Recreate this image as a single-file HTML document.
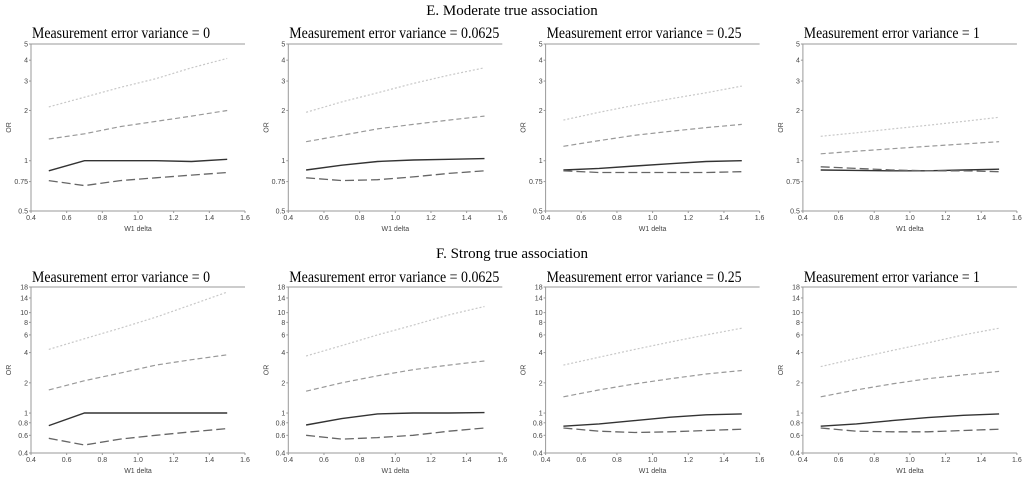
<!DOCTYPE html>
<html><head><meta charset="utf-8"><style>
html,body{margin:0;padding:0;background:#fff;}
svg{display:block;}
.sec{font-family:"Liberation Serif",serif;font-size:15px;fill:#000;}
.pt{font-family:"Liberation Serif",serif;font-size:15.5px;fill:#000;}
.tk{font-family:"Liberation Sans",sans-serif;font-size:7px;fill:#444;}
</style></head><body>
<svg id="c" width="1024" height="481" xmlns="http://www.w3.org/2000/svg">
<text class="sec" x="512" y="15" text-anchor="middle">E. Moderate true association</text>
<text class="sec" x="512" y="258" text-anchor="middle">F. Strong true association</text>
</svg>
<script>
const xs = [0.5,0.7,0.9,1.1,1.3,1.5];
const panelTitles = ["Measurement error variance = 0","Measurement error variance = 0.0625","Measurement error variance = 0.25","Measurement error variance = 1"];
const titleWidths = [178,210,195,176];
const xTicks = [0.4,0.6,0.8,1.0,1.2,1.4,1.6];
const xTickLabels = ["0.4","0.6","0.8","1.0","1.2","1.4","1.6"];
const yTicksE = [0.5,0.75,1,2,3,4,5];
const yTickLabelsE = ["0.5","0.75","1","2","3","4","5"];
const yTicksF = [0.4,0.6,0.8,1,2,4,6,8,10,14,18];
const yTickLabelsF = ["0.4","0.6","0.8","1","2","4","6","8","10","14","18"];
const e1Dot=[2.1,2.4,2.75,3.1,3.6,4.1], e1Dash=[1.35,1.45,1.6,1.72,1.85,2.0], e1Solid=[0.87,1.0,1.0,1.0,0.99,1.02], e1Long=[0.76,0.71,0.76,0.79,0.82,0.85];
const e2Dot=[1.95,2.25,2.55,2.9,3.25,3.6], e2Dash=[1.3,1.42,1.55,1.65,1.75,1.85], e2Solid=[0.88,0.94,0.99,1.01,1.02,1.03], e2Long=[0.79,0.76,0.77,0.8,0.84,0.87];
const e3Dot=[1.75,1.95,2.15,2.35,2.55,2.8], e3Dash=[1.22,1.32,1.42,1.5,1.58,1.65], e3Solid=[0.88,0.9,0.93,0.96,0.99,1.0], e3Long=[0.87,0.85,0.85,0.85,0.85,0.86];
const e4Dot=[1.4,1.47,1.55,1.63,1.72,1.82], e4Dash=[1.1,1.14,1.18,1.22,1.26,1.3], e4Solid=[0.88,0.875,0.87,0.87,0.88,0.89], e4Long=[0.92,0.9,0.88,0.87,0.87,0.86];
const f1Dot=[4.3,5.5,7.0,9.0,12,16], f1Dash=[1.7,2.1,2.5,3.0,3.4,3.8], f1Solid=[0.75,1.0,1.0,1.0,1.0,1.0], f1Long=[0.56,0.48,0.55,0.6,0.65,0.7];
const f2Dot=[3.7,4.7,6.0,7.5,9.5,11.5], f2Dash=[1.65,2.0,2.35,2.7,3.0,3.3], f2Solid=[0.76,0.88,0.98,1.0,1.0,1.01], f2Long=[0.6,0.55,0.57,0.6,0.66,0.71];
const f3Dot=[3.0,3.6,4.3,5.1,6.0,7.0], f3Dash=[1.45,1.7,1.95,2.2,2.45,2.65], f3Solid=[0.74,0.78,0.84,0.91,0.96,0.98], f3Long=[0.71,0.66,0.64,0.65,0.67,0.69];
const f4Dot=[2.9,3.5,4.2,5.0,6.0,7.0], f4Dash=[1.45,1.7,1.95,2.2,2.4,2.6], f4Solid=[0.74,0.78,0.84,0.9,0.95,0.98], f4Long=[0.71,0.66,0.65,0.65,0.67,0.69];

const svg=document.getElementById('c');
const NS="http://www.w3.org/2000/svg";
function mk(tag,attrs,parent){const e=document.createElementNS(NS,tag);for(const k in attrs)e.setAttribute(k,attrs[k]);(parent||svg).appendChild(e);return e;}
const styles=[
 {stroke:"#c8c8c8",dash:"2,2",w:1.2,name:"dotted-line"},
 {stroke:"#999",dash:"5,3",w:1.2,name:"dashed-line"},
 {stroke:"#333",dash:"",w:1.4,name:"solid-line"},
 {stroke:"#666",dash:"9,4",w:1.3,name:"long-dashed-line"}];
const rows=[
 {top:44,bot:211,min:0.5,max:5,ticks:yTicksE,labels:yTickLabelsE,titleY:38,data:[[e1Dot,e1Dash,e1Solid,e1Long],[e2Dot,e2Dash,e2Solid,e2Long],[e3Dot,e3Dash,e3Solid,e3Long],[e4Dot,e4Dash,e4Solid,e4Long]],id:"e"},
 {top:287,bot:453,min:0.4,max:18,ticks:yTicksF,labels:yTickLabelsF,titleY:282,data:[[f1Dot,f1Dash,f1Solid,f1Long],[f2Dot,f2Dash,f2Solid,f2Long],[f3Dot,f3Dash,f3Solid,f3Long],[f4Dot,f4Dash,f4Solid,f4Long]],id:"f"}];
rows.forEach(r=>{
 for(let i=0;i<4;i++){
  const L=31+257.3*i, W=214;
  const g=mk('g',{});
  
  
  const X=v=>L+(v-0.4)/1.2*W;
  const Y=v=>r.bot-(Math.log(v)-Math.log(r.min))/(Math.log(r.max)-Math.log(r.min))*(r.bot-r.top);
  const t=mk('text',{class:'pt',x:L+1,y:r.titleY,textLength:titleWidths[i],lengthAdjust:'spacingAndGlyphs'},g);t.textContent=panelTitles[i];
  
  const ax=mk('path',{d:`M${L+W},${r.top}H${L}V${r.bot}H${L+W}`,fill:'none',stroke:'#999','stroke-width':1},g);
  
  xTicks.forEach((v,k)=>{
   mk('line',{x1:X(v),x2:X(v),y1:r.bot,y2:r.bot+2,stroke:'#999'},g);
   const tt=mk('text',{class:'tk',x:X(v),y:r.bot+9,'text-anchor':'middle'},g);tt.textContent=xTickLabels[k];
   
  });
  r.ticks.forEach((v,k)=>{
   mk('line',{x1:L-2,x2:L,y1:Y(v),y2:Y(v),stroke:'#999'},g);
   const tt=mk('text',{class:'tk',x:L-3,y:Y(v)+2.5,'text-anchor':'end'},g);tt.textContent=r.labels[k];
   
  });
  const xl=mk('text',{class:'tk',x:L+W/2,y:r.bot+20,'text-anchor':'middle'},g);xl.textContent='W1 delta';
  
  const cy=(r.top+r.bot)/2;
  const yl=mk('text',{class:'tk',x:L-20,y:cy,'text-anchor':'middle',transform:`rotate(-90 ${L-20} ${cy})`},g);yl.textContent='OR';
  
  r.data[i].forEach((ser,s)=>{
   const st=styles[s];
   const d=ser.map((v,k)=>(k?'L':'M')+X(xs[k]).toFixed(1)+','+Y(v).toFixed(1)).join('');
   const p=mk('path',{d:d,fill:'none',stroke:st.stroke,'stroke-width':st.w},g);
   if(st.dash)p.setAttribute('stroke-dasharray',st.dash);
   
   
  });
 }
});
</script>
</body></html>
